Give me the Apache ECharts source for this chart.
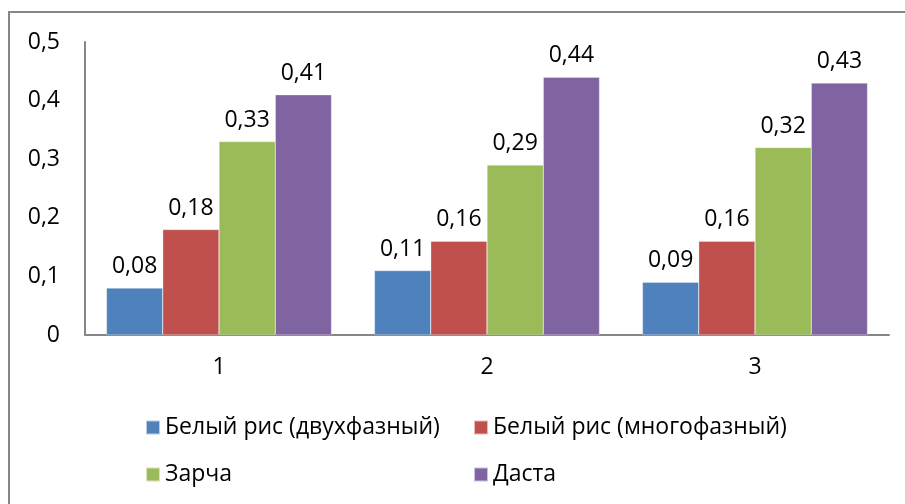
<!DOCTYPE html>
<html><head><meta charset="utf-8">
<script src="https://cdn.jsdelivr.net/npm/echarts@6/dist/echarts.min.js"></script>
<style>html,body{margin:0;padding:0;background:#fff}#c{width:905px;height:504px}</style>
</head><body><div id="c"></div>
<script>
const categories = ['1', '2', '3'];
const seriesNames = ['Белый рис (двухфазный)', 'Белый рис (многофазный)', 'Зарча', 'Даста'];
const whiteTwoPhase = [0.08, 0.11, 0.09];
const whiteMultiPhase = [0.18, 0.16, 0.16];
const zarcha = [0.33, 0.29, 0.32];
const dasta = [0.41, 0.44, 0.43];
const yTicks = [0, 0.1, 0.2, 0.3, 0.4, 0.5];

const colors = ['#4F81BD', '#C0504D', '#9BBB59', '#8064A2'];
const values = [whiteTwoPhase, whiteMultiPhase, zarcha, dasta];
const FONT = 'Open Sans';
const FS = 23;
const fmt = v => String(v).replace('.', ',');

const chart = echarts.init(document.getElementById('c'), null, {renderer: 'canvas'});
const legendPos = [[145, 416], [473, 416], [145, 463], [473, 463]];
chart.setOption({
  animation: false,
  backgroundColor: '#fff',
  textStyle: {fontFamily: FONT},
  graphic: [{type: 'rect', shape: {x: 9, y: 12, width: 1000, height: 600}, style: {fill: 'none', stroke: '#878787', lineWidth: 2}, silent: true}],
  grid: {left: 85, top: 42, right: 16, bottom: 169, containLabel: false},
  legend: seriesNames.map((n, i) => ({
    data: [n], left: legendPos[i][0], top: legendPos[i][1], padding: 0,
    itemWidth: 14, itemHeight: 14, icon: 'rect',
    textStyle: {fontSize: FS, color: '#000', fontFamily: FONT}
  })),
  xAxis: {
    type: 'category', data: categories,
    axisLine: {lineStyle: {color: '#868686', width: 2}},
    axisTick: {show: false},
    axisLabel: {fontSize: FS, color: '#000', margin: 21, fontFamily: FONT}
  },
  yAxis: {
    type: 'value', min: 0, max: 0.5, interval: 0.1,
    axisLine: {show: true, lineStyle: {color: '#868686', width: 2}},
    axisTick: {show: false},
    splitLine: {show: false},
    axisLabel: {fontSize: FS, color: '#000', margin: 25, fontFamily: FONT,
      formatter: v => yTicks.some(t => Math.abs(t - v) < 1e-9) ? fmt(+v.toFixed(1)) : ''}
  },
  series: seriesNames.map((n, i) => ({
    name: n, type: 'bar', data: values[i],
    barGap: '0%', barCategoryGap: '16%',
    itemStyle: {color: colors[i], borderColor: 'rgba(255,255,255,0.6)', borderWidth: 0.5},
    label: {show: true, position: 'top', distance: 10, fontSize: FS, color: '#000', fontFamily: FONT,
      formatter: p => fmt(p.value)}
  }))
});
</script></body></html>
